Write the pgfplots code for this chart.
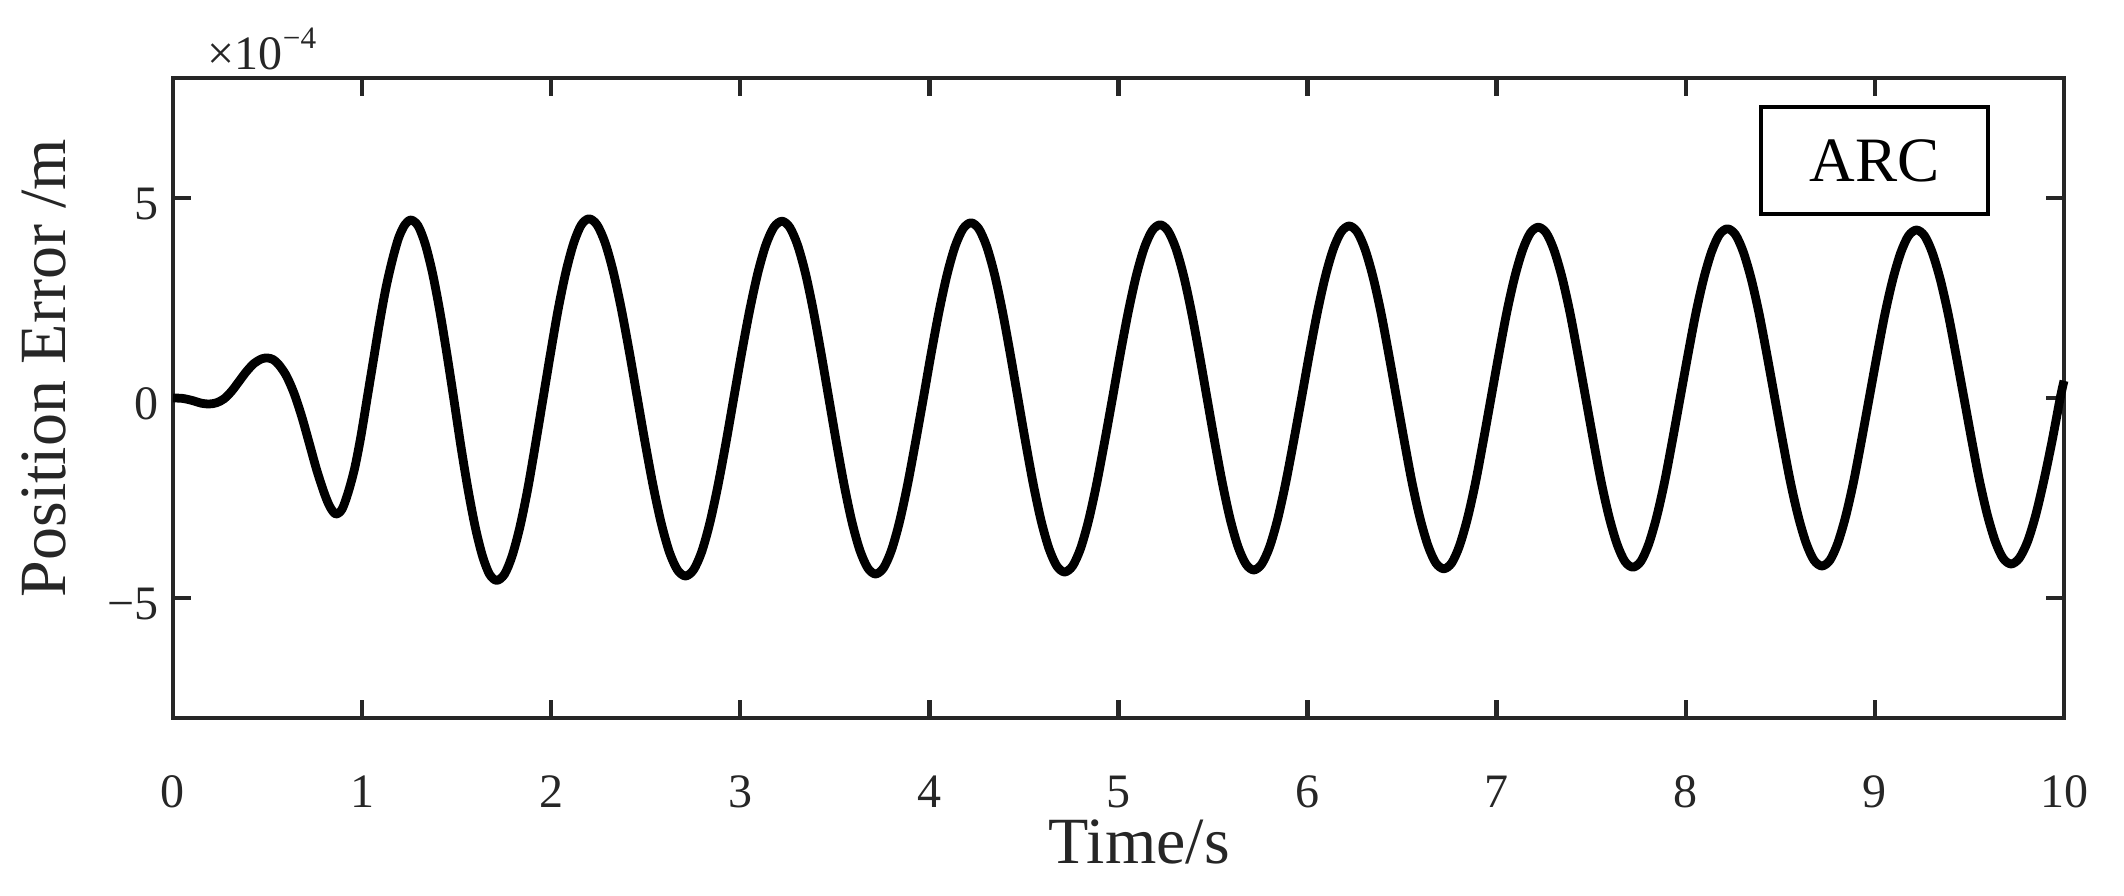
\documentclass[border=0pt]{standalone}
\usepackage{fontspec}
\setmainfont{Liberation Serif}
\usepackage{pgfplots}
\pgfplotsset{compat=1.18}
\definecolor{axgray}{HTML}{262626}
\begin{document}
\begin{tikzpicture}
\begin{axis}[
  scale only axis, width=472.75pt, height=160pt,
  xmin=0, xmax=10, ymin=-8, ymax=8,
  xtick={0,1,2,3,4,5,6,7,8,9,10},
  ytick={-5,0,5}, yticklabels={−5,0,5},
  scaled y ticks=false,
  /pgf/number format/assume math mode=true,
  axis line style={axgray, line width=1.1pt},
  every tick/.style={axgray, line width=1.1pt},
  major tick length=4.5pt,
  tick align=inside,
  ticklabel style={font=\fontsize{12}{14}\selectfont, text=axgray},
  xticklabel style={anchor=base, yshift=-22.25pt},
  yticklabel style={yshift=-1.5pt},
  xlabel={Time/s}, ylabel={Position Error /m},
  label style={font=\fontsize{16.5}{19}\selectfont, text=axgray},
  xlabel style={at={(axis description cs:0.511,-0.2266)}, anchor=base},
  ylabel style={at={(axis description cs:-0.0567,0.547)}, anchor=base},
  clip=false,
]
\addplot[black, line width=2.2pt, smooth, line join=round] coordinates {
(0,0.00) (0.05,-0.01) (0.10,-0.06) (0.15,-0.13) (0.19,-0.15) (0.23,-0.12)
(0.27,-0.02) (0.31,0.17) (0.35,0.42) (0.39,0.67) (0.43,0.87) (0.47,0.98)
(0.50,1.00) (0.53,0.96) (0.56,0.83) (0.60,0.55) (0.64,0.12) (0.68,-0.45)
(0.72,-1.12) (0.76,-1.80) (0.80,-2.38) (0.83,-2.72) (0.861,-2.90)
(0.894,-2.78) (0.927,-2.35) (0.961,-1.75) (0.994,-0.95) (1.027,0.0) (1.060,0.95)
(1.093,1.9) (1.126,2.75) (1.160,3.45) (1.193,4.00) (1.226,4.33) (1.259,4.45)
(1.297,4.297) (1.334,3.846) (1.372,3.130) (1.410,2.198) (1.448,1.112) (1.486,-0.055)
(1.523,-1.222) (1.561,-2.308) (1.599,-3.240) (1.637,-3.956) (1.674,-4.407) (1.712,-4.56)
(1.753,-4.406) (1.793,-3.954) (1.834,-3.236) (1.875,-2.30) (1.915,-1.211) (1.956,-0.04)
(1.997,1.131) (2.037,2.22) (2.078,3.156) (2.119,3.874) (2.159,4.326) (2.200,4.48)
(2.2425,4.328) (2.285,3.882) (2.3275,3.172) (2.370,2.248) (2.4125,1.171) (2.455,0.015)
(2.4975,-1.141) (2.540,-2.218) (2.5825,-3.142) (2.625,-3.852) (2.6675,-4.298) (2.710,-4.45)
(2.7525,-4.299) (2.795,-3.856) (2.8375,-3.151) (2.880,-2.233) (2.9225,-1.164) (2.965,-0.015)
(3.0075,1.134) (3.050,2.203) (3.0925,3.121) (3.135,3.826) (3.1775,4.269) (3.220,4.42)
(3.261,4.27) (3.3025,3.829) (3.344,3.128) (3.385,2.215) (3.426,1.152) (3.4675,0.01)
(3.509,-1.132) (3.55,-2.195) (3.591,-3.108) (3.6325,-3.809) (3.674,-4.25) (3.715,-4.40)
(3.757,-4.251) (3.799,-3.812) (3.841,-3.114) (3.883,-2.205) (3.925,-1.147) (3.968,-0.01)
(4.010,1.127) (4.052,2.185) (4.094,3.094) (4.136,3.792) (4.178,4.231) (4.220,4.38)
(4.261,4.232) (4.3025,3.795) (4.344,3.101) (4.385,2.198) (4.426,1.146) (4.4675,0.015)
(4.509,-1.116) (4.55,-2.168) (4.591,-3.071) (4.6325,-3.765) (4.674,-4.202) (4.715,-4.35)
(4.757,-4.202) (4.799,-3.768) (4.841,-3.078) (4.883,-2.18) (4.925,-1.134) (4.968,-0.01)
(5.010,1.114) (5.052,2.16) (5.094,3.058) (5.136,3.748) (5.178,4.182) (5.220,4.33)
(5.261,4.183) (5.3025,3.752) (5.344,3.066) (5.385,2.173) (5.426,1.133) (5.4675,0.015)
(5.509,-1.103) (5.55,-2.143) (5.591,-3.036) (5.6325,-3.722) (5.674,-4.153) (5.715,-4.30)
(5.757,-4.154) (5.799,-3.724) (5.841,-3.040) (5.883,-2.15) (5.925,-1.114) (5.968,0)
(6.010,1.114) (6.052,2.15) (6.094,3.040) (6.136,3.724) (6.178,4.154) (6.220,4.30)
(6.262,4.154) (6.303,3.726) (6.345,3.044) (6.387,2.158) (6.428,1.125) (6.470,0.015)
(6.512,-1.095) (6.553,-2.128) (6.595,-3.014) (6.637,-3.696) (6.678,-4.124) (6.720,-4.27)
(6.762,-4.125) (6.803,-3.698) (6.845,-3.019) (6.887,-2.135) (6.928,-1.106) (6.970,0)
(7.012,1.106) (7.053,2.135) (7.095,3.019) (7.137,3.698) (7.178,4.125) (7.220,4.27)
(7.262,4.126) (7.303,3.701) (7.345,3.025) (7.387,2.145) (7.428,1.121) (7.470,0.02)
(7.512,-1.081) (7.553,-2.105) (7.595,-2.985) (7.637,-3.661) (7.678,-4.086) (7.720,-4.23)
(7.762,-4.086) (7.803,-3.663) (7.845,-2.991) (7.887,-2.115) (7.928,-1.096) (7.970,0)
(8.012,1.096) (8.053,2.115) (8.095,2.991) (8.137,3.663) (8.178,4.086) (8.220,4.23)
(8.262,4.087) (8.303,3.665) (8.345,2.995) (8.387,2.123) (8.428,1.107) (8.470,0.015)
(8.512,-1.077) (8.553,-2.093) (8.595,-2.965) (8.637,-3.635) (8.678,-4.057) (8.720,-4.20)
(8.762,-4.057) (8.803,-3.637) (8.845,-2.969) (8.887,-2.10) (8.928,-1.088) (8.970,0)
(9.012,1.088) (9.053,2.10) (9.095,2.969) (9.137,3.637) (9.178,4.057) (9.220,4.20)
(9.262,4.058) (9.303,3.641) (9.345,2.977) (9.387,2.113) (9.428,1.106) (9.470,0.025)
(9.512,-1.056) (9.553,-2.063) (9.595,-2.927) (9.637,-3.591) (9.678,-4.008) (9.720,-4.15)
(9.763,-4.009) (9.807,-3.594) (9.850,-2.934) (9.893,-2.075) (9.937,-1.075) (9.980,0.0)
(10.0,0.43)
};
\node[draw=black, line width=1pt, fill=white, minimum width=56.75pt, minimum height=26.75pt,
  inner sep=0pt, font=\fontsize{15.8}{18}\selectfont] at (axis description cs:0.8998,0.871) {ARC};
\node[anchor=base west, inner sep=0pt, text=axgray, font=\fontsize{12}{14}\selectfont]
  at (axis description cs:0.018,1.0125) {×10\raisebox{5.4pt}{\fontsize{7.8}{9}\selectfont −4}};
\end{axis}
\pgfresetboundingbox
\path[use as bounding box] ([shift={(-43.25pt,-44.25pt)}]current axis.south west) rectangle ([shift={(15pt,19.5pt)}]current axis.north east);
\end{tikzpicture}
\end{document}
